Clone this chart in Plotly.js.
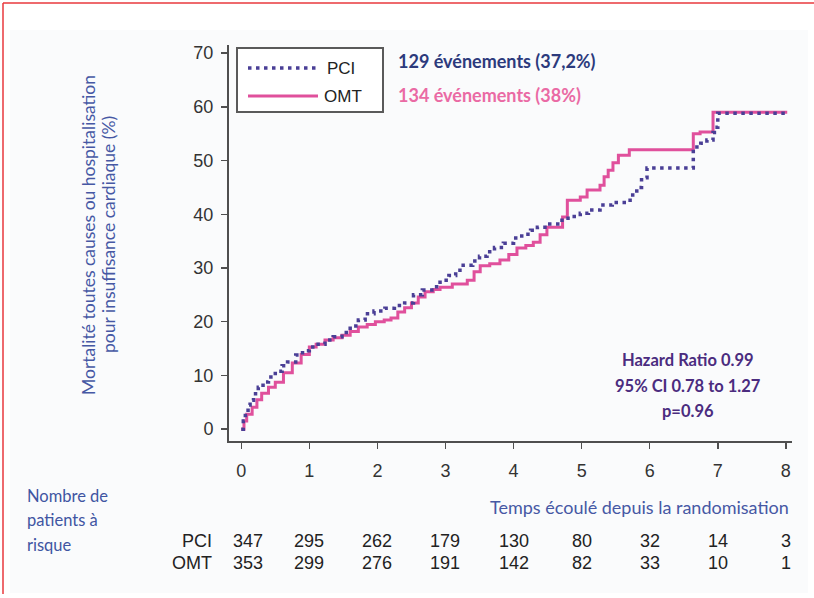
<!DOCTYPE html>
<html>
<head>
<meta charset="utf-8">
<script src="https://cdn.plot.ly/plotly-3.0.1.min.js"></script>
<style>html,body{margin:0;padding:0;background:#fff;}#chart{width:814px;height:598px;}</style>
</head>
<body>
<div id="chart"></div>
<script>
// ---- Data ----
const pciTime = [0,0.03,0.06,0.1,0.13,0.18,0.25,0.32,0.4,0.5,0.6,0.68,0.8,0.9,1.0,1.1,1.23,1.35,1.48,1.6,1.72,1.82,1.95,2.11,2.25,2.4,2.53,2.66,2.8,2.92,3.05,3.15,3.26,3.4,3.5,3.61,3.72,3.85,4.0,4.12,4.25,4.35,4.5,4.68,4.8,4.98,5.1,5.27,5.45,5.67,5.75,5.81,5.88,5.96,6.64,6.75,6.84,6.93,6.99,7.0,8.0];
const pciEvent = [0,1.5,3,4.5,5.4,6.6,7.8,8.8,9.7,10.8,11.8,12.5,13.8,14.6,15.3,15.8,16.6,17.2,18.0,19.2,20.3,21.5,22.0,22.5,23.0,23.5,25.0,25.9,26.5,27.7,28.6,29.6,30.5,31.3,32.2,33.0,33.8,34.6,35.6,36.3,37.0,37.6,38.2,38.9,39.6,40.2,40.8,41.7,42.2,42.6,44.0,45.0,46.8,48.6,52.5,53.2,53.8,55.2,56.2,58.8,58.8];
const omtTime = [0,0.04,0.08,0.16,0.23,0.3,0.4,0.5,0.62,0.75,0.88,1.0,1.1,1.23,1.35,1.48,1.6,1.72,1.85,1.97,2.1,2.2,2.3,2.4,2.5,2.6,2.7,2.82,2.92,3.1,3.32,3.42,3.51,3.65,3.8,3.93,4.05,4.18,4.29,4.39,4.49,4.72,4.79,4.98,5.08,5.27,5.33,5.39,5.46,5.54,5.7,6.64,6.74,6.93,6.96,8.02];
const omtEvent = [0,1.5,2.8,4.1,5.5,6.7,7.8,8.75,10.5,12.3,13.9,15.3,15.8,16.6,17.0,17.5,18.2,19.0,19.5,20.0,20.3,20.7,21.8,22.6,23.5,24.6,25.6,26.0,26.4,27.0,27.7,29.3,30.4,30.8,31.5,32.5,33.7,34.2,34.8,36.2,37.6,39.5,42.6,43.2,44.5,45.4,47.0,48.2,49.6,51.0,52.0,55.0,55.3,59.0,59.0,59.0];
const seriesNames = ["PCI", "OMT"];
const eventLabels = ["129 événements (37,2%)", "134 événements (38%)"];
const xTicks = [0,1,2,3,4,5,6,7,8];
const yTicks = [0,10,20,30,40,50,60,70];
const riskPCI = [347,295,262,179,130,80,32,14,3];
const riskOMT = [353,299,276,191,142,82,33,10,1];
const statLines = ["Hazard Ratio 0.99", "95% CI 0.78 to 1.27", "p=0.96"];
const yTitleLines = ["Mortalité toutes causes ou hospitalisation", "pour insuffisance cardiaque (%)"];
const xTitle = "Temps écoulé depuis la randomisation";
const riskTitle = ["Nombre de", "patients à", "risque"];

// ---- Layout helpers (pixel -> paper) ----
const L = 229, R = 792, T = 45, B = 441;
const px = x => (x - L) / (R - L);
const py = y => (B - y) / (B - T);

const PCI_COLOR = "#4a3f96";
const OMT_COLOR = "#e0509c";
const NARROW = "Liberation Sans Narrow, Arial Narrow, Liberation Sans, Arial, sans-serif";
const SANS = "Liberation Sans, Arial, sans-serif";
const CAL = "Lato, Open Sans, sans-serif";

const traces = [
  {x: omtTime, y: omtEvent, type: "scatter", mode: "lines", name: seriesNames[1],
   line: {color: OMT_COLOR, width: 3, shape: "hv"}, showlegend: false, hoverinfo: "skip"},
  {x: pciTime, y: pciEvent, type: "scatter", mode: "lines", name: seriesNames[0],
   line: {color: PCI_COLOR, width: 3.5, shape: "hv", dash: "3.5px,4.5px"}, showlegend: false, hoverinfo: "skip"}
];

const annotations = [];
// event labels
annotations.push({xref: "paper", yref: "paper", x: px(396), y: py(61), xanchor: "left", yanchor: "middle",
  text: "<b>" + eventLabels[0] + "</b>", showarrow: false, font: {family: CAL, size: 18, color: "#2c3a7c"}});
annotations.push({xref: "paper", yref: "paper", x: px(396), y: py(95), xanchor: "left", yanchor: "middle",
  text: "<b>" + eventLabels[1] + "</b>", showarrow: false, font: {family: CAL, size: 18, color: "#ea6aa4"}});
// legend text
annotations.push({xref: "paper", yref: "paper", x: px(325), y: py(68), xanchor: "left", yanchor: "middle",
  text: seriesNames[0], showarrow: false, font: {family: SANS, size: 17, color: "#222"}});
annotations.push({xref: "paper", yref: "paper", x: px(322), y: py(96), xanchor: "left", yanchor: "middle",
  text: seriesNames[1], showarrow: false, font: {family: SANS, size: 17, color: "#222"}});
// stats
const statY = [360, 386, 411];
statLines.forEach((s, i) => annotations.push({xref: "paper", yref: "paper", x: px(688), y: py(statY[i]),
  xanchor: "center", yanchor: "middle", text: "<b>" + s + "</b>", showarrow: false,
  font: {family: CAL, size: 16.5, color: "#4b2c7f"}}));
// y title (two lines)
const yTitleX = [88, 108];
yTitleLines.forEach((s, i) => annotations.push({xref: "paper", yref: "paper", x: px(yTitleX[i]), y: py(235),
  xanchor: "center", yanchor: "middle", text: s, textangle: -90, showarrow: false,
  font: {family: CAL, size: 17.5, color: "#4658a4"}}));
// x title
annotations.push({xref: "paper", yref: "paper", x: px(791), y: py(507), xanchor: "right", yanchor: "middle",
  text: xTitle, showarrow: false, font: {family: CAL, size: 18, color: "#4658a4"}});
// risk title
const riskTitleY = [496, 520, 545];
riskTitle.forEach((s, i) => annotations.push({xref: "paper", yref: "paper", x: px(25), y: py(riskTitleY[i]),
  xanchor: "left", yanchor: "middle", text: s, showarrow: false, font: {family: CAL, size: 16.5, color: "#3f55a2"}}));
// risk table
annotations.push({xref: "paper", yref: "paper", x: px(214), y: py(541), xanchor: "right", yanchor: "middle",
  text: seriesNames[0], showarrow: false, font: {family: NARROW, size: 18, color: "#222"}});
annotations.push({xref: "paper", yref: "paper", x: px(214), y: py(563), xanchor: "right", yanchor: "middle",
  text: seriesNames[1], showarrow: false, font: {family: NARROW, size: 18, color: "#222"}});
xTicks.forEach((t, i) => {
  annotations.push({xref: "x", yref: "paper", x: t + (i === 0 ? 0.1 : 0), y: py(541), xanchor: "center", yanchor: "middle",
    text: String(riskPCI[i]), showarrow: false, font: {family: NARROW, size: 18, color: "#222"}});
  annotations.push({xref: "x", yref: "paper", x: t + (i === 0 ? 0.1 : 0), y: py(563), xanchor: "center", yanchor: "middle",
    text: String(riskOMT[i]), showarrow: false, font: {family: NARROW, size: 18, color: "#222"}});
});

const shapes = [
  {type: "rect", xref: "paper", yref: "paper", x0: px(10), x1: px(808), y0: py(30), y1: py(593),
   fillcolor: "#fafbfc", line: {width: 0}, layer: "below"},
  {type: "line", xref: "paper", yref: "paper", x0: px(3), x1: px(814), y0: py(3), y1: py(3),
   line: {color: "#e8383d", width: 1.5}},
  {type: "line", xref: "paper", yref: "paper", x0: px(3), x1: px(3), y0: py(3), y1: py(594),
   line: {color: "#e8383d", width: 1.5}},
  {type: "rect", xref: "paper", yref: "paper", x0: px(237), x1: px(383), y0: py(48), y1: py(112),
   fillcolor: "#ffffff", line: {color: "#5a5a5a", width: 2}},
  {type: "line", xref: "paper", yref: "paper", x0: px(248), x1: px(318), y0: py(68), y1: py(68),
   line: {color: PCI_COLOR, width: 3.5, dash: "3.5px,4.5px"}},
  {type: "line", xref: "paper", yref: "paper", x0: px(248), x1: px(318), y0: py(96), y1: py(96),
   line: {color: OMT_COLOR, width: 3}}
];

const layout = {
  width: 814, height: 598,
  margin: {l: L, r: 814 - R, t: T, b: 598 - B},
  paper_bgcolor: "#ffffff",
  plot_bgcolor: "rgba(0,0,0,0)",
  showlegend: false,
  xaxis: {range: [-0.18, 8.09], tickvals: xTicks, ticktext: xTicks.map(String),
    showgrid: false, zeroline: false, showline: true, linecolor: "#4f4f4f", linewidth: 2,
    ticks: "outside", ticklen: 6, tickwidth: 1.5, tickcolor: "#4f4f4f",
    tickfont: {family: NARROW, size: 18, color: "#333"}, ticklabelstandoff: 6},
  yaxis: {range: [-2.2, 71.5], tickvals: yTicks, ticktext: yTicks.map(String),
    showgrid: false, zeroline: false, showline: true, linecolor: "#4f4f4f", linewidth: 2,
    ticks: "outside", ticklen: 6, tickwidth: 1.5, tickcolor: "#4f4f4f",
    tickfont: {family: NARROW, size: 18, color: "#333"}, ticklabelstandoff: 4},
  annotations: annotations,
  shapes: shapes
};

Plotly.newPlot("chart", traces, layout, {displayModeBar: false, staticPlot: true});
</script>
</body>
</html>
